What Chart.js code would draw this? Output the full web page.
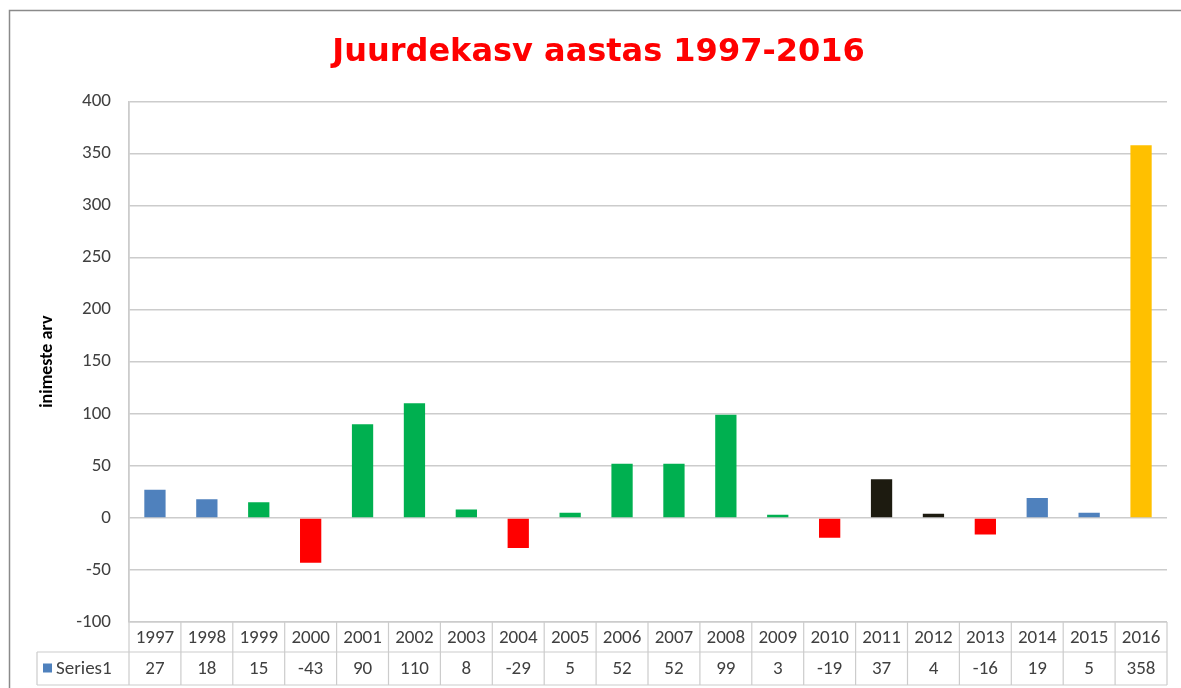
<!DOCTYPE html>
<html lang="et">
<head>
<meta charset="UTF-8">
<title>Juurdekasv aastas 1997-2016</title>
<script src="https://cdn.jsdelivr.net/npm/chart.js"></script>
<style>
  html, body { margin:0; padding:0; background:#fff; }
  canvas { display:block; }
</style>
</head>
<body>
<canvas id="cvs" width="1181" height="688"></canvas>
<script>
// andmed
const years = ['1997','1998','1999','2000','2001','2002','2003','2004','2005','2006',
               '2007','2008','2009','2010','2011','2012','2013','2014','2015','2016'];
const growth = [27, 18, 15, -43, 90, 110, 8, -29, 5, 52, 52, 99, 3, -19, 37, 4, -16, 19, 5, 358];
const seriesName = 'Series1';
const yTicks = [-100, -50, 0, 50, 100, 150, 200, 250, 300, 350, 400];

// tulpade värvid
const BLUE = '#4f81bd', GREEN = '#00b050', RED = '#ff0000', DARK = '#1d1b10', GOLD = '#ffc000';
const barColors = [BLUE, BLUE, GREEN, RED, GREEN, GREEN, GREEN, RED, GREEN, GREEN,
                   GREEN, GREEN, GREEN, RED, DARK, DARK, RED, BLUE, BLUE, GOLD];

const FONT = "Calibri, Carlito, 'Liberation Sans', sans-serif";
const GRID = '#cccccc';
const TEXT = '#404040';

// raam ümber
const framePlugin = {
  id: 'frame',
  beforeDraw(chart) {
    const c = chart.ctx;
    c.save();
    c.fillStyle = '#fff';
    c.fillRect(0, 0, chart.width, chart.height);
    c.strokeStyle = '#8a8a8a';
    c.lineWidth = 1.5;
    c.strokeRect(9.5, 10.5, chart.width + 20, chart.height + 20);
    c.restore();
  }
};

// andmetabel x-telje all
const tablePlugin = {
  id: 'dataTable',
  afterDraw(chart) {
    const c = chart.ctx, x = chart.scales.x, area = chart.chartArea;
    const n = years.length, w = x.width / n;
    const top = area.bottom, mid = top + 30, bot = mid + 33;
    const keyLeft = 37;
    c.save();
    c.strokeStyle = GRID;
    c.lineWidth = 1.2;
    c.beginPath();
    c.moveTo(area.left, top); c.lineTo(area.right, top);
    c.moveTo(keyLeft, mid); c.lineTo(area.right, mid);
    c.moveTo(keyLeft, bot); c.lineTo(area.right, bot);
    c.moveTo(keyLeft, mid); c.lineTo(keyLeft, bot);
    c.moveTo(area.left, area.top); c.lineTo(area.left, bot);
    for (let i = 0; i < n; i++) {
      const r = x.getPixelForValue(i) + w / 2;
      c.moveTo(r, top); c.lineTo(r, bot);
    }
    c.stroke();

    c.fillStyle = TEXT;
    c.font = '19px ' + FONT;
    c.textAlign = 'center';
    c.textBaseline = 'middle';
    years.forEach((yr, i) => {
      const cx = x.getPixelForValue(i);
      c.fillText(yr, cx, (top + mid) / 2 + 1);
      c.fillText(String(growth[i]), cx, (mid + bot) / 2 + 1);
    });
    // legendi võti
    c.fillStyle = BLUE;
    c.fillRect(43, (mid + bot) / 2 - 5, 9, 9);
    c.fillStyle = TEXT;
    c.textAlign = 'left';
    c.fillText(seriesName, 56, (mid + bot) / 2 + 1);
    c.restore();
  }
};

new Chart(document.getElementById('cvs').getContext('2d'), {
  type: 'bar',
  data: {
    labels: years,
    datasets: [{
      label: seriesName,
      data: growth,
      backgroundColor: barColors,
      borderWidth: 0,
      barPercentage: 0.41,
      categoryPercentage: 1
    }]
  },
  options: {
    responsive: false,
    animation: false,
    layout: { padding: { left: 30, right: 14, top: 0, bottom: 0 } },
    plugins: {
      legend: { display: false },
      tooltip: { enabled: false },
      title: {
        display: true,
        text: 'Juurdekasv aastas 1997-2016',
        color: '#ff0000',
        font: { family: "'Comic Sans MS', 'DejaVu Sans', sans-serif", size: 32, weight: 'bold' },
        padding: { top: 33, bottom: 30 }
      }
    },
    scales: {
      x: {
        ticks: { display: false },
        grid: { display: false },
        border: { display: false },
        afterFit: s => { s.height = 66; }
      },
      y: {
        min: yTicks[0],
        max: yTicks[yTicks.length - 1],
        afterBuildTicks: s => { s.ticks = yTicks.map(v => ({ value: v })); },
        ticks: { color: TEXT, padding: 18, font: { family: FONT, size: 19 } },
        grid: { color: GRID, lineWidth: 1.5, drawTicks: false },
        border: { color: GRID, width: 1.5 },
        title: {
          display: true,
          text: 'inimeste arv',
          color: '#000',
          font: { family: FONT, size: 18, weight: 'bold' },
          padding: { top: 7, bottom: 0 }
        },
        afterFit: s => { s.width = 99; }
      }
    }
  },
  plugins: [framePlugin, tablePlugin]
});
</script>
</body>
</html>
